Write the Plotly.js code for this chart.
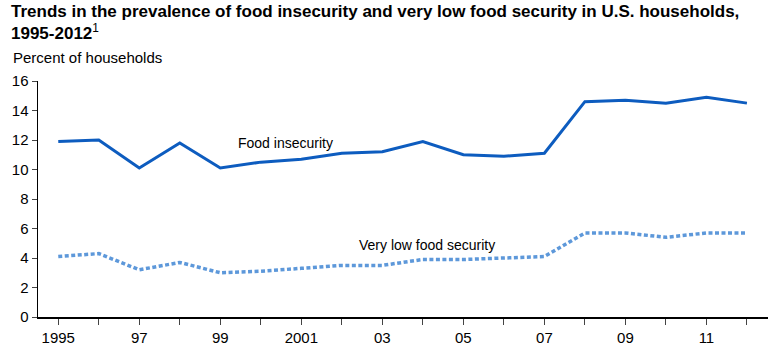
<!DOCTYPE html>
<html>
<head>
<meta charset="utf-8">
<script src="https://cdn.plot.ly/plotly-3.0.1.min.js"></script>
<style>html,body{margin:0;padding:0;background:#fff;}#chart{width:773px;height:350px;}</style>
</head>
<body>
<div id="chart"></div>
<script>
var years = [1995,1996,1997,1998,1999,2000,2001,2002,2003,2004,2005,2006,2007,2008,2009,2010,2011,2012];
var foodInsecurity = [11.9,12.0,10.1,11.8,10.1,10.5,10.7,11.1,11.2,11.9,11.0,10.9,11.1,14.6,14.7,14.5,14.9,14.5];
var veryLowFoodSecurity = [4.1,4.3,3.2,3.7,3.0,3.1,3.3,3.5,3.5,3.9,3.9,4.0,4.1,5.7,5.7,5.4,5.7,5.7];
var tickLabels = ["1995","","97","","99","","2001","","03","","05","","07","","09","","11",""];
var yTicks = [0,2,4,6,8,10,12,14,16];

var FONT = "Liberation Sans, Arial, Helvetica, sans-serif";

var traces = [
  {x: years, y: foodInsecurity, type: 'scatter', mode: 'lines', name: 'Food insecurity',
   line: {color: '#0d5cbf', width: 3}},
  {x: years, y: veryLowFoodSecurity, type: 'scatter', mode: 'lines', name: 'Very low food security',
   line: {color: '#5d98da', width: 3.5, dash: '4px,2.5px'}}
];

var layout = {
  width: 773, height: 350,
  margin: {l: 38, r: 5, t: 81, b: 33},
  paper_bgcolor: '#fff', plot_bgcolor: '#fff',
  showlegend: false,
  font: {family: FONT, size: 15, color: '#000'},
  title: {
    text: '<b>Trends in the prevalence of food insecurity and very low food security in U.S. households,<br>1995-2012</b><sup>1</sup>',
    font: {family: FONT, size: 17, color: '#000'},
    x: 11/773, xanchor: 'left', xref: 'container',
    y: 1 - 17/350, yanchor: 'top', yref: 'container'
  },
  xaxis: {
    range: [1994.5, 2012.52],
    tickmode: 'array', tickvals: years, ticktext: tickLabels,
    ticks: 'outside', ticklen: 6, tickwidth: 1, tickcolor: '#444',
    showline: true, linecolor: '#000', linewidth: 1.5,
    showgrid: false, zeroline: false,
    tickfont: {family: FONT, size: 15, color: '#000'}
  },
  yaxis: {
    range: [0, 16],
    tickmode: 'array', tickvals: yTicks,
    ticks: 'outside', ticklen: 5, tickwidth: 1, tickcolor: '#444',
    showline: true, linecolor: '#000', linewidth: 1.5,
    showgrid: false, zeroline: false,
    tickfont: {family: FONT, size: 15, color: '#000'}
  },
  annotations: [
    {text: 'Percent of households', xref: 'paper', yref: 'paper',
     x: (11 - 38)/730, y: (316.7 - 58)/235.7, xanchor: 'left', yanchor: 'middle',
     showarrow: false, font: {family: FONT, size: 15, color: '#000'}},
    {text: 'Food insecurity', xref: 'x', yref: 'y', x: 2000.62, y: 11.77,
     xanchor: 'center', yanchor: 'middle', showarrow: false,
     font: {family: FONT, size: 14, color: '#000'}},
    {text: 'Very low food security', xref: 'x', yref: 'y', x: 2004.1, y: 4.87,
     xanchor: 'center', yanchor: 'middle', showarrow: false,
     font: {family: FONT, size: 14, color: '#000'}}
  ]
};

Plotly.newPlot('chart', traces, layout, {displayModeBar: false, staticPlot: true});
</script>
</body>
</html>
